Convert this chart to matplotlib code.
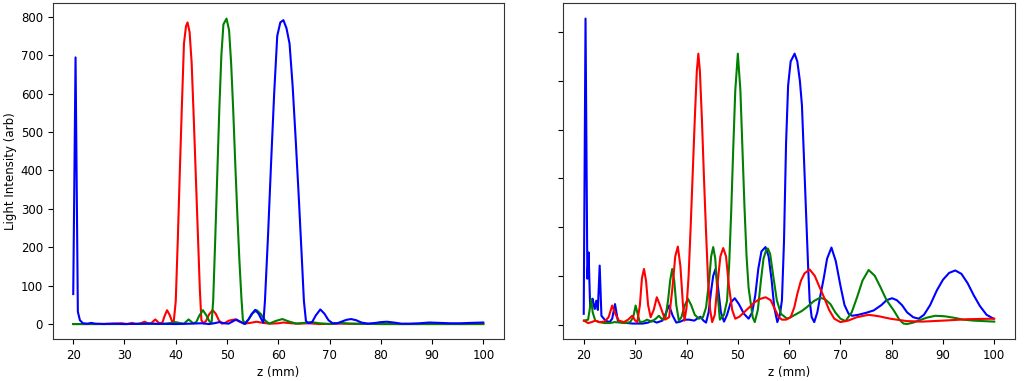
import matplotlib
matplotlib.use("Agg")
import matplotlib.pyplot as plt

# ---------------- data (z in mm, intensity in arb units) ----------------
x_ticks = [20, 30, 40, 50, 60, 70, 80, 90, 100]

left_red = [
    (20, 0), (24, 0), (28, 1), (29.5, 2), (30.5, 0), (31.5, 3), (32.2, 0), (33.0, 1),
    (33.9, 6), (34.8, 1), (35.2, 2), (36.0, 12), (36.8, 2), (37.4, 4), (37.8, 20),
    (38.3, 36), (38.8, 24), (39.3, 6), (39.6, 5), (40.0, 60), (40.4, 220), (40.8, 400),
    (41.2, 570), (41.6, 730), (42.0, 775), (42.3, 785), (42.7, 760), (43.1, 680),
    (43.5, 540), (43.9, 390), (44.3, 240), (44.7, 90), (45.0, 10), (45.4, 2), (45.9, 8),
    (46.5, 25), (47.2, 36), (47.8, 27), (48.4, 10), (49.0, 1), (49.6, 3), (50.4, 9),
    (51.5, 12), (52.5, 6), (53.3, 1), (54.5, 3), (55.8, 6), (57.0, 3), (58.5, 1),
    (60.0, 2), (61.0, 4), (62.5, 2), (64.0, 1), (66.0, 2), (68.0, 0), (72.0, 1),
    (80.0, 0), (100, 0),
]

left_green = [
    (20, 0), (30, 0), (35, 1), (36.5, 0), (38.0, 1), (39.0, 3), (40.0, 5), (41.0, 2),
    (41.6, 1), (42.5, 12), (43.4, 2), (44.0, 5), (44.6, 22), (45.3, 36), (46.0, 22),
    (46.6, 6), (47.0, 5), (47.3, 60), (47.7, 220), (48.1, 390), (48.5, 560), (48.9, 700),
    (49.3, 780), (49.9, 795), (50.4, 765), (50.8, 680), (51.2, 560), (51.6, 420),
    (52.0, 290), (52.4, 170), (52.8, 70), (53.1, 10), (53.5, 2), (54.2, 12), (55.0, 28),
    (55.8, 36), (56.6, 26), (57.4, 10), (58.2, 1), (59.5, 8), (60.8, 13), (62.0, 7),
    (63.5, 1), (65.0, 3), (66.5, 5), (68.0, 2), (70.0, 0), (72.0, 3), (74.0, 1),
    (80.0, 0), (100, 0),
]

left_blue = [
    (20.0, 78), (20.45, 694), (20.9, 32), (21.3, 10), (21.9, 2), (22.8, 1), (23.5, 3),
    (24.3, 1), (26.0, 0), (28.0, 1), (30.0, 0), (35.0, 1), (40.0, 0), (43.0, 1),
    (45.0, 2), (46.5, 0), (47.5, 2), (48.5, 5), (49.5, 2), (50.3, 1), (51.0, 6),
    (51.8, 12), (52.6, 6), (53.5, 0), (54.2, 12), (54.8, 26), (55.5, 37), (56.2, 26),
    (56.8, 10), (57.1, 4), (57.4, 60), (58.0, 230), (58.6, 420), (59.2, 600), (59.8, 750),
    (60.4, 785), (61.0, 791), (61.6, 770), (62.2, 730), (62.8, 620), (63.4, 480),
    (64.0, 330), (64.6, 170), (65.0, 60), (65.4, 8), (65.9, 2), (66.6, 5), (67.3, 22),
    (68.2, 38), (69.0, 27), (69.8, 10), (70.6, 2), (71.5, 2), (72.5, 7), (73.3, 11),
    (74.2, 13), (75.2, 10), (76.2, 4), (77.5, 1), (79.0, 3), (80.0, 5), (81.2, 6),
    (82.5, 4), (84.0, 1), (85.5, 1), (87.5, 2), (89.5, 4), (91.5, 3), (93.5, 2),
    (95.5, 2), (97.5, 3), (100.0, 4),
]

right_red = [
    (20.0, 8), (20.8, 3), (21.5, 5), (22.2, 8), (23.0, 5), (24.0, 6), (24.8, 15),
    (25.5, 39), (26.2, 20), (26.8, 8), (27.8, 5), (28.6, 10), (29.4, 18), (30.0, 8),
    (30.4, 5), (30.9, 40), (31.3, 95), (31.7, 114), (32.1, 90), (32.5, 40), (33.0, 15),
    (33.6, 30), (34.2, 56), (34.8, 40), (35.8, 10), (36.6, 15), (37.2, 70), (37.8, 140),
    (38.3, 160), (38.8, 120), (39.3, 40), (39.6, 8), (40.0, 35), (40.4, 100), (40.8, 200),
    (41.2, 310), (41.6, 420), (42.0, 520), (42.3, 556), (42.6, 520), (43.0, 420),
    (43.4, 300), (43.8, 190), (44.2, 90), (44.6, 30), (45.0, 5), (45.5, 20), (46.0, 80),
    (46.6, 140), (47.15, 157), (47.7, 140), (48.25, 80), (48.9, 30), (49.5, 12),
    (50.3, 16), (51.2, 25), (52.2, 35), (53.2, 45), (54.2, 52), (55.4, 56), (56.4, 50),
    (57.3, 30), (58.0, 15), (58.6, 10), (59.4, 10), (60.3, 15), (61.0, 35), (61.6, 63),
    (62.3, 90), (63.0, 105), (64.0, 113), (65.0, 100), (65.8, 80), (66.8, 56),
    (67.8, 30), (68.8, 12), (70.0, 5), (71.5, 8), (73.2, 15), (75.5, 20), (77.5, 17),
    (79.7, 12), (83.0, 7), (86.0, 6), (90.0, 8), (95.0, 11), (100.0, 12),
]

right_green = [
    (20.0, 8), (20.8, 10), (21.1, 30), (21.4, 52), (21.7, 25), (22.2, 8), (23.0, 5),
    (24.0, 3), (25.0, 3), (26.0, 5), (27.0, 4), (28.0, 3), (29.0, 5), (29.6, 15),
    (30.07, 39), (30.5, 20), (30.9, 5), (31.6, 6), (32.3, 10), (33.2, 6), (34.0, 12),
    (34.6, 18), (35.3, 10), (35.9, 15), (36.4, 50), (36.8, 90), (37.2, 114), (37.6, 90),
    (38.0, 40), (38.5, 8), (39.0, 15), (39.6, 38), (40.26, 53), (40.9, 40), (41.6, 20),
    (42.4, 12), (43.2, 15), (43.8, 35), (44.4, 90), (44.8, 140), (45.2, 159), (45.6, 135),
    (46.0, 70), (46.5, 10), (47.3, 20), (47.9, 49), (48.3, 120), (48.7, 230), (49.1, 360),
    (49.5, 480), (50.0, 556), (50.5, 480), (50.9, 360), (51.3, 240), (51.7, 140),
    (52.1, 75), (52.5, 45), (52.9, 15), (53.3, 5), (53.9, 30), (54.5, 90), (55.0, 135),
    (55.5, 152), (55.85, 156), (56.3, 145), (56.9, 100), (57.6, 50), (58.4, 22),
    (59.6, 12), (60.3, 15), (61.5, 22), (62.5, 28), (63.5, 36), (64.8, 48), (66.0, 55),
    (67.0, 52), (68.05, 42), (69.0, 25), (70.0, 12), (71.0, 7), (72.2, 25), (73.25, 56),
    (74.3, 90), (75.5, 112), (76.7, 100), (77.8, 77), (79.0, 50), (80.4, 29), (81.5, 10),
    (82.3, 2), (83.0, 1), (84.2, 4), (85.25, 8), (86.8, 14), (88.5, 18), (90.3, 17),
    (92.1, 14), (94.0, 10), (96.0, 8), (98.0, 7), (100.0, 6),
]

right_blue = [
    (19.95, 22), (20.3, 628), (20.66, 94), (20.9, 148), (21.2, 36), (21.45, 45),
    (21.7, 53), (21.9, 40), (22.1, 32), (22.4, 49), (22.7, 30), (23.06, 121), (23.4, 18),
    (24.2, 8), (25.0, 5), (25.5, 12), (26.05, 42), (26.6, 8), (27.5, 4), (28.5, 3),
    (29.5, 2), (30.5, 2), (31.5, 2), (32.5, 4), (33.3, 8), (34.2, 4), (35.3, 8),
    (35.9, 22), (36.6, 39), (37.3, 18), (38.0, 4), (38.8, 6), (39.6, 10), (40.5, 10),
    (41.5, 8), (42.2, 13), (42.7, 16), (43.3, 8), (43.8, 4), (44.3, 25), (44.8, 70),
    (45.2, 100), (45.65, 114), (46.1, 80), (46.7, 25), (47.3, 6), (47.9, 20), (48.6, 45),
    (49.4, 54), (50.2, 42), (51.2, 22), (52.1, 12), (52.8, 25), (53.4, 60), (54.0, 115),
    (54.6, 150), (55.4, 159), (56.0, 140), (56.6, 90), (57.1, 35), (57.7, 5), (58.2, 20),
    (58.6, 50), (59.0, 170), (59.4, 370), (59.8, 490), (60.3, 540), (61.07, 556),
    (61.6, 540), (62.1, 500), (62.5, 450), (62.9, 340), (63.3, 230), (63.7, 120),
    (64.0, 50), (64.4, 15), (64.9, 5), (65.5, 25), (66.1, 60), (66.75, 95), (67.4, 135),
    (68.25, 158), (69.1, 130), (70.0, 80), (70.8, 40), (71.6, 22), (72.3, 18), (73.5, 20),
    (75.0, 24), (76.5, 29), (78.0, 40), (79.0, 50), (80.07, 54), (81.0, 50), (82.0, 40),
    (83.0, 25), (84.2, 15), (85.25, 12), (86.3, 20), (87.5, 40), (88.8, 70), (90.0, 92),
    (91.2, 106), (92.4, 111), (93.6, 104), (94.8, 85), (96.0, 60), (97.2, 38),
    (98.5, 20), (99.86, 12),
]

x_label = "z (mm)"
y_label = "Light Intensity (arb)"

# ---------------- figure ----------------
plt.rcParams["font.family"] = ["DejaVu Sans"]
plt.rcParams["font.size"] = 8.5

fig = plt.figure(figsize=(10.24, 3.81), dpi=100)
ax1 = fig.add_axes([0.0515, 0.1094, 0.4405, 0.8819])
ax2 = fig.add_axes([0.5500, 0.1094, 0.4410, 0.8819])

lw = 1.5


def xy(series):
    zs, vs = zip(*series)
    return list(zs), list(vs)


for series, col in [(left_red, "r"), (left_green, "g"), (left_blue, "b")]:
    z, v = xy(series)
    ax1.plot(z, v, color=col, lw=lw)

for series, col in [(right_blue, "b"), (right_green, "g"), (right_red, "r")]:
    z, v = xy(series)
    ax2.plot(z, v, color=col, lw=lw)

for ax in (ax1, ax2):
    ax.set_xticks(x_ticks)
    ax.set_xlabel(x_label, labelpad=3)
    for s in ax.spines.values():
        s.set_color("#333333")

ax1.set_ylabel(y_label, labelpad=3)
ax2.tick_params(axis="y", labelleft=False)

fig.savefig("out.png", dpi=100)
